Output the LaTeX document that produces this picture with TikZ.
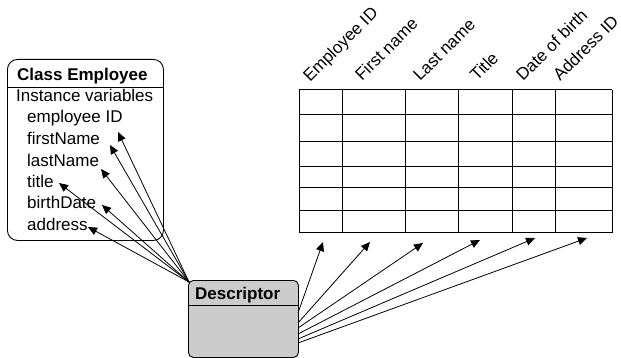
\documentclass[tikz,border=0pt]{standalone}
\usepackage{fontspec}
\setmainfont{Liberation Sans}
\usetikzlibrary{arrows.meta,calc}
\definecolor{descgray}{HTML}{CCCCCC}
\begin{document}
\begin{tikzpicture}[x=1pt,y=-1pt,
  lbl/.style={inner sep=0pt, anchor=base west, font=\fontsize{17}{20}\selectfont},
  hdr/.style={lbl, font=\fontsize{17}{20}\selectfont\bfseries},
  col/.style={lbl, rotate=45},
  boxstyle/.style={draw, line width=0.9pt, anchor=north west, inner sep=0pt},
  conn/.style={line width=0.8pt, -{Triangle[length=9pt,width=8pt]}},
  grid line/.style={line width=1pt}
  ]
\useasboundingbox (0,0) rectangle (621,358);

% Class Employee box
\node[boxstyle, rounded corners=10pt, minimum width=156pt, minimum height=181pt] (cls) at (7,59) {};
\draw[line width=0.9pt] (7,87) -- (163,87);
\node[hdr] (clsname) at (17,81) {Class Employee};
\node[lbl] (iv) at (16,102) {Instance variables};
\node[lbl] (v1) at (27,123) {employee ID};
\node[lbl] (v2) at (27,145) {firstName};
\node[lbl] (v3) at (27,167) {lastName};
\node[lbl] (v4) at (27,188) {title};
\node[lbl] (v5) at (27,209) {birthDate};
\node[lbl] (v6) at (27,230) {address};

% Descriptor box
\node[boxstyle, fill=descgray, rounded corners=5pt, minimum width=110pt, minimum height=77pt] (desc) at (188,280) {};
\draw[line width=0.9pt] (188,305) -- (298,305);
\node[hdr] (descname) at (195,299) {Descriptor};

% Table
\foreach \x in {299,342,405,458,512,555,612} \draw[grid line] (\x,90) -- (\x,233);
\foreach \y in {90,115,142,167,188,211,233} \draw[grid line] (299,\y) -- (612,\y);

% Column labels
\node[col] (c1) at (310,83) {Employee ID};
\node[col] (c2) at (362,82) {First name};
\node[col] (c3) at (420,82) {Last name};
\node[col] (c4) at (477,82) {Title};
\node[col] (c5) at (523,82) {Date of birth};
\node[col] (c6) at (560,82) {Address ID};

% Arrow tips (left)
\coordinate (a1) at (118,132);
\coordinate (a2) at (110,145);
\coordinate (a3) at (101,169);
\coordinate (a4) at (59,183);
\coordinate (a5) at (102,205);
\coordinate (a6) at (88,227);
\coordinate (ls) at (189,282);
\foreach \i in {1,...,6} \draw[conn] (ls) -- (a\i);

% Arrow tips (right)
\coordinate (b1) at (323,242);
\coordinate (b2) at (370,242);
\coordinate (b3) at (423,243);
\coordinate (b4) at (480,240);
\coordinate (b5) at (535,238);
\coordinate (b6) at (587,238);
\coordinate (r1) at (298,313);
\coordinate (r2) at (298,323);
\coordinate (r3) at (298,328);
\coordinate (r4) at (298,334);
\coordinate (r5) at (298,339);
\coordinate (r6) at (298,343);
\foreach \i in {1,...,6} \draw[conn] (r\i) -- (b\i);
\end{tikzpicture}
\end{document}
